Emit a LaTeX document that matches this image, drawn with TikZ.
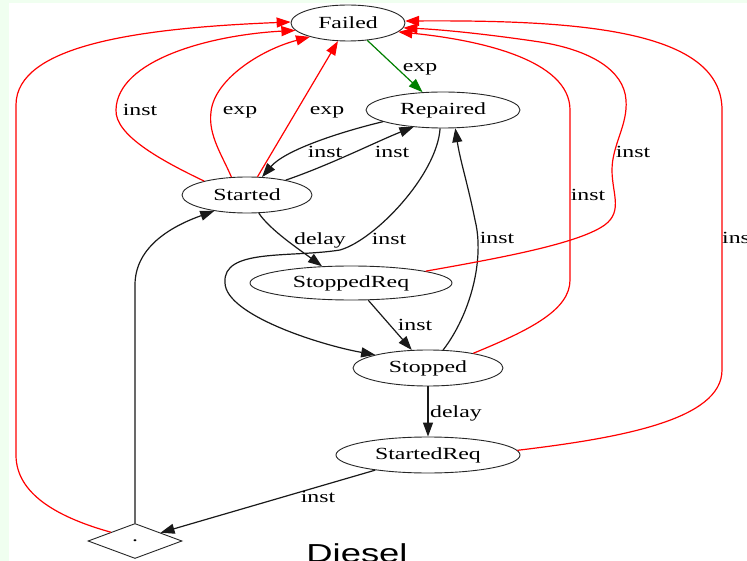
\documentclass[tikz,border=0pt]{standalone}
\usepackage{fontspec}
\setmainfont{Liberation Serif}[FakeStretch=1.4]
\newfontfamily\titlefont{Liberation Sans}[FakeStretch=1.4]
\usetikzlibrary{arrows.meta,shapes.geometric}
\definecolor{bgmint}{RGB}{240,255,240}
\definecolor{gvgreen}{RGB}{0,128,0}
\begin{document}
\begin{tikzpicture}[x=1pt,y=-1pt,
  st/.style={ellipse, draw=black!85, line width=0.9pt, inner sep=0pt, font=\fontsize{17}{20}\selectfont},
  lbl/.style={inner sep=0pt, font=\fontsize{17}{20}\selectfont},
  conn/.style={line width=1.2pt, draw=black!90, -{Triangle[length=14pt,width=10pt]}},
  rconn/.style={conn, draw=red},
  gconn/.style={conn, draw=gvgreen}]
\clip (0,0) rectangle (747,561);
\fill[bgmint] (0,0) rectangle (747,561);
\fill[white] (9,3) rectangle (747,561);
% nodes
\node[st, minimum width=114pt, minimum height=36pt] (failed) at (348,23) {Failed};
\node[st, minimum width=154pt, minimum height=36pt] (repaired) at (443,110) {Repaired};
\node[st, minimum width=130pt, minimum height=36pt] (started) at (247,195) {Started};
\node[st, minimum width=202pt, minimum height=34pt] (stoppedreq) at (351,283) {StoppedReq};
\node[st, minimum width=150pt, minimum height=36pt] (stopped) at (428,368) {Stopped};
\node[st, minimum width=184pt, minimum height=36pt] (startedreq) at (428,455) {StartedReq};
\node[diamond, aspect=2.7, draw=black!85, line width=0.9pt, minimum width=94pt, minimum height=35pt, inner sep=0pt, font=\fontsize{17}{20}\selectfont] (dia) at (135,541) {.};
\node[font=\titlefont\fontsize{26}{30}\selectfont, anchor=base, inner sep=0pt] (title) at (357,562) {Diesel};
% edges
\draw[gconn] (failed.-42) -- (repaired.139);
\node[lbl] (l1) at (420,69) {exp};
\draw[conn] (repaired.-169) .. controls (340,132) and (285,150) .. (started.50);
\node[lbl] (l2) at (325,152) {inst};
\draw[conn] (started.21) .. controls (330,165) and (380,140) .. (repaired.-150);
\node[lbl] (l3) at (392,152) {inst};
\draw[rconn] (started.60) -- (failed.-119);
\node[lbl] (l4) at (327,112) {exp};
\draw[rconn] (started.131) .. controls (222,155) and (208,135) .. (211,112) .. controls (214,80) and (260,50) .. (failed.-160);
\node[lbl] (l5) at (240,112) {exp};
\draw[rconn] (started.162) .. controls (160,160) and (115,135) .. (116,110) .. controls (117,60) and (210,35) .. (failed.-172);
\node[lbl] (l6) at (140,110) {inst};
\draw[rconn] (dia.160) .. controls (60,518) and (16,495) .. (16,455) -- (16,105) .. controls (16,45) and (140,28) .. (failed.179);
\draw[conn] (dia.90) -- (135,285) .. controls (135,245) and (175,225) .. (started.-154);
\draw[conn] (started.-57) .. controls (270,230) and (300,250) .. (stoppedreq.150);
\node[lbl] (l7) at (320,240) {delay};
\draw[conn] (repaired.-99) .. controls (437,175) and (375,240) .. (340,250) .. controls (290,258) and (222,248) .. (225,283) .. controls (226,315) and (320,345) .. (stopped.166);
\node[lbl] (l8) at (389,239) {inst};
\draw[conn] (stoppedreq.-45) -- (stopped.132);
\node[lbl] (l9) at (415,325) {inst};
\draw[conn] (stopped.50) .. controls (470,315) and (485,260) .. (475,220) .. controls (468,185) and (460,160) .. (repaired.-56);
\node[lbl] (l10) at (497,238) {inst};
\draw[rconn] (stoppedreq.9) .. controls (500,258) and (570,245) .. (600,228) .. controls (625,214) and (612,195) .. (612,170) .. controls (612,145) and (628,125) .. (626,100) .. controls (624,70) and (590,50) .. (540,42) .. controls (500,36) and (450,30) .. (failed.-5);
\node[lbl] (l11) at (633,152) {inst};
\draw[rconn] (stopped.18) .. controls (530,330) and (570,310) .. (570,280) -- (570,110) .. controls (570,60) and (480,40) .. (failed.-10);
\node[lbl] (l12) at (588,195) {inst};
\draw[rconn] (startedreq.3) .. controls (620,438) and (722,420) .. (722,370) -- (722,110) .. controls (722,30) and (580,20) .. (failed.2);
\node[lbl, anchor=west] (l13) at (722,238) {inst};
\draw[conn] (stopped.-90) -- (startedreq.90);
\node[lbl] (l14) at (456,413) {delay};
\draw[conn] (startedreq.-164) -- (dia.18);
\node[lbl] (l15) at (318,497) {inst};
\end{tikzpicture}
\end{document}
